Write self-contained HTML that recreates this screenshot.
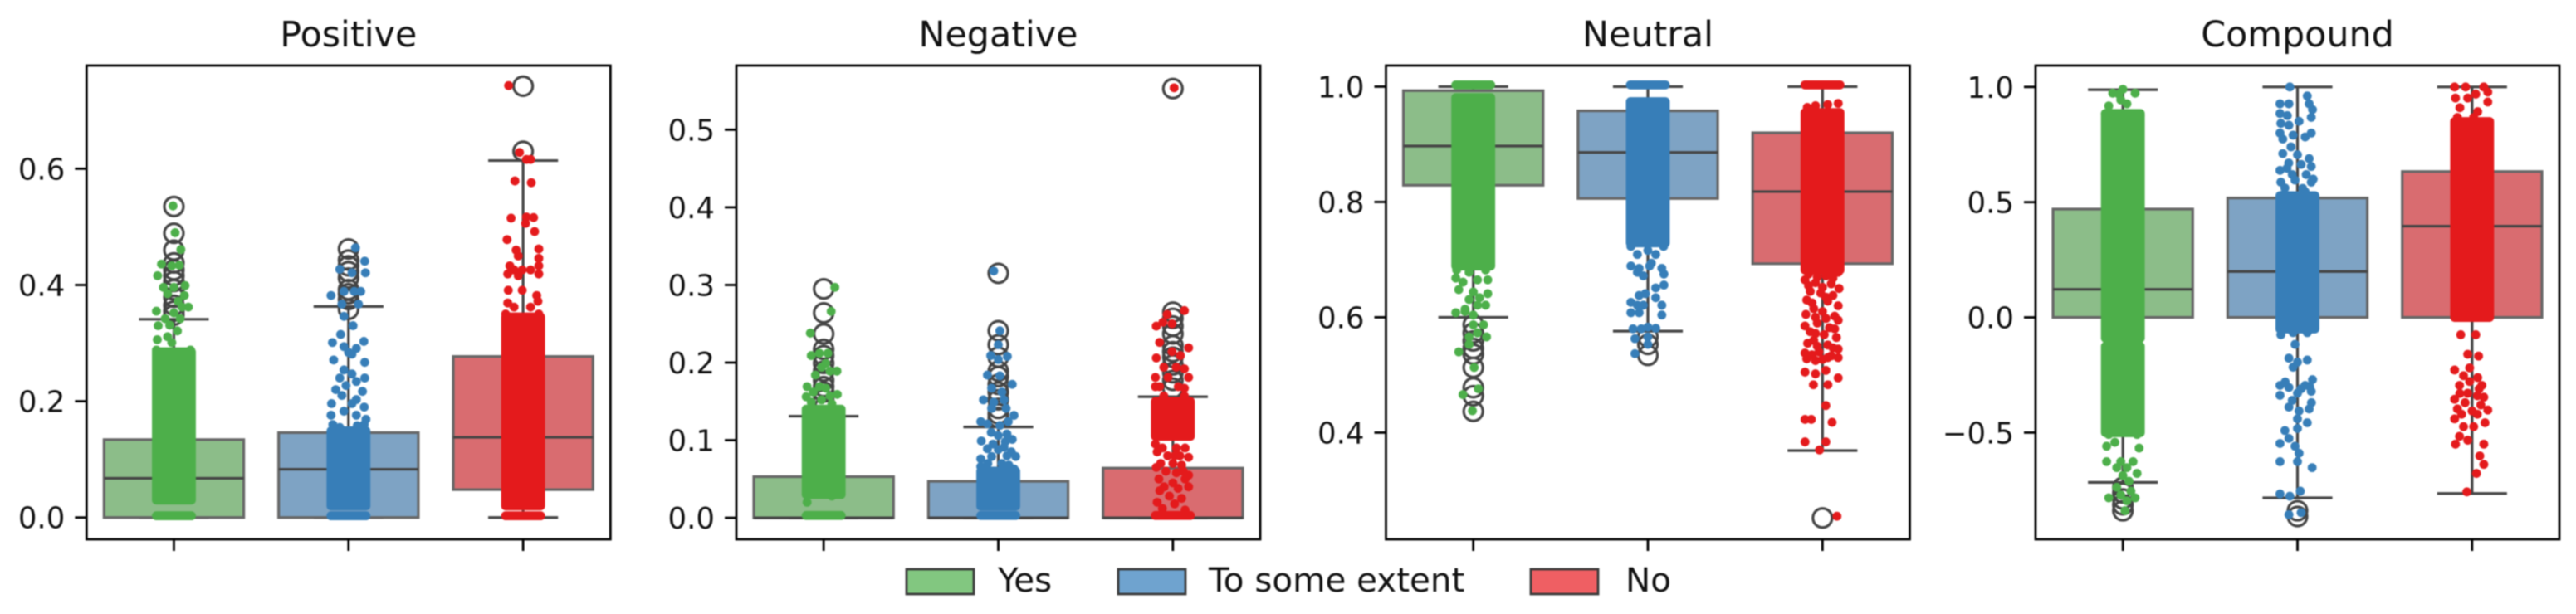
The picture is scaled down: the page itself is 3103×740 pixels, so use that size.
<!DOCTYPE html>
<html lang="en">
<head>
<meta charset="utf-8">
<title>Sentiment score box plots</title>
<style>
html,body{margin:0;padding:0;background:#fff;width:3103px;height:740px;overflow:hidden}
svg{display:block;filter:blur(0.9px)}
text{font-family:"DejaVu Sans","Liberation Sans",sans-serif;fill:#111}
</style>
</head>
<body>
<svg id="chart" xmlns="http://www.w3.org/2000/svg" width="3103" height="740" viewBox="0 0 3103 740">
  <rect x="0" y="0" width="3103" height="740" fill="#fff"/>
  <g id="panels"></g>
  <g id="legend"></g>
</svg>
<script>
const panelTitles = ["Positive", "Negative", "Neutral", "Compound"];
const panelKeys = ["positive", "negative", "neutral", "compound"];
const categories = ["Yes", "To some extent", "No"];

const positiveDomain = [-0.0375, 0.7775];
const negativeDomain = [-0.0277, 0.5827];
const neutralDomain = [0.215, 1.0366];
const compoundDomain = [-0.963, 1.093];

const positiveTicks = [0, 0.2, 0.4, 0.6];
const negativeTicks = [0, 0.1, 0.2, 0.3, 0.4, 0.5];
const neutralTicks = [0.4, 0.6, 0.8, 1.0];
const compoundTicks = [-0.5, 0, 0.5, 1.0];

const positiveQ1 = [0, 0, 0.048];
const positiveMedian = [0.0675, 0.083, 0.138];
const positiveQ3 = [0.134, 0.146, 0.277];
const positiveWhiskerLow = [0, 0, 0];
const positiveWhiskerHigh = [0.341, 0.363, 0.614];
const positiveFliers = [
  [0.535,0.489,0.46,0.438,0.426,0.416,0.406,0.392,0.379,0.365,0.355,0.348],
  [0.462,0.443,0.433,0.423,0.412,0.392,0.385,0.375,0.358],
  [0.742,0.63]
];

const negativeQ1 = [0, 0, 0];
const negativeMedian = [0, 0, 0];
const negativeQ3 = [0.053, 0.047, 0.064];
const negativeWhiskerLow = [0, 0, 0];
const negativeWhiskerHigh = [0.131, 0.117, 0.156];
const negativeFliers = [
  [0.295,0.264,0.237,0.217,0.209,0.199,0.189,0.177,0.169,0.162,0.152,0.141],
  [0.315,0.241,0.223,0.207,0.189,0.182,0.172,0.162,0.152,0.141,0.134,0.129],
  [0.553,0.265,0.257,0.247,0.237,0.222,0.214,0.207,0.197,0.187,0.177,0.167]
];

const neutralQ1 = [0.829, 0.806, 0.693];
const neutralMedian = [0.897, 0.886, 0.818];
const neutralQ3 = [0.993, 0.958, 0.92];
const neutralWhiskerLow = [0.6, 0.576, 0.369];
const neutralWhiskerHigh = [1, 1, 1];
const neutralFliers = [
  [0.587,0.573,0.559,0.546,0.536,0.513,0.478,0.464,0.437],
  [0.566,0.553,0.534],
  [0.252]
];

const compoundQ1 = [0, 0, 0];
const compoundMedian = [0.122, 0.199, 0.396];
const compoundQ3 = [0.47, 0.518, 0.633];
const compoundWhiskerLow = [-0.716, -0.783, -0.764];
const compoundWhiskerHigh = [0.988, 1, 1];
const compoundFliers = [
  [-0.839,-0.813,-0.788,-0.762,-0.737],
  [-0.839,-0.864],
  []
];

/* Overplotted stretches of each strip, where the dots merge into a solid column: [low, high] */
const positiveDense = [
  [[0.003,0.003],[0.03,0.285]],
  [[0.003,0.003],[0.02,0.149]],
  [[0.003,0.003],[0.02,0.345]]
];
const negativeDense = [
  [[0.003,0.003],[0.03,0.14]],
  [[0.003,0.003],[0.015,0.06]],
  [[0.003,0.003],[0.105,0.15]]
];
const neutralDense = [
  [[1.003,1.003],[0.689,0.981]],
  [[1.003,1.003],[0.729,0.974]],
  [[1.003,1.003],[0.682,0.955]]
];
const compoundDense = [
  [[-0.09,0.885],[-0.5,-0.125]],
  [[-0.05,0.528]],
  [[0,0.85]]
];

/* Individually visible strip dots: [value, horizontal jitter in category units] */
const positiveYesDots = [[0.536,-0.005],[0.49,0.007],[0.461,0.04],[0.436,-0.071],[0.434,0.031],[0.433,-0.012],[0.416,-0.093],[0.396,-0.06],[0.399,0.064],[0.396,0],[0.385,-0.036],[0.382,0.06],[0.372,0.024],[0.362,0.047],[0.362,0.083],[0.355,-0.1],[0.352,0],[0.342,-0.05],[0.342,0.036],[0.33,-0.09],[0.331,-0.024],[0.321,0.02],[0.306,-0.095],[0.311,-0.036],[0.301,-0.012],[0.288,-0.1],[0.288,0.095]];
const positiveTseDots = [[0.464,0.04],[0.441,0.093],[0.427,-0.05],[0.421,0.02],[0.421,0.097],[0.382,-0.1],[0.389,-0.026],[0.389,0.07],[0.389,0.033],[0.367,0.057],[0.367,-0.038],[0.346,-0.026],[0.33,0.026],[0.315,-0.045],[0.301,-0.092],[0.303,0.088],[0.294,-0.026],[0.291,0.045],[0.284,0],[0.271,-0.085],[0.267,0.093],[0.281,0.02],[0.254,-0.026],[0.24,-0.05],[0.24,0.093],[0.247,0.02],[0.234,0.045],[0.22,-0.073],[0.217,0.08],[0.227,-0.014],[0.196,-0.097],[0.19,0.09],[0.196,0.02],[0.21,-0.038],[0.203,0.045],[0.176,-0.1],[0.169,0.1],[0.183,-0.026],[0.176,0.045],[0.16,-0.09],[0.158,0.05],[0.155,-0.05],[0.16,0.09]];
const positiveNoDots = [[0.743,-0.083],[0.628,-0.021],[0.616,0.019],[0.616,0.043],[0.579,-0.047],[0.576,0.047],[0.515,-0.069],[0.517,0.019],[0.516,0.06],[0.506,0.014],[0.492,0.066],[0.478,-0.092],[0.462,0.09],[0.46,-0.04],[0.45,-0.028],[0.446,0.09],[0.433,0.09],[0.433,-0.076],[0.426,-0.052],[0.426,-0.005],[0.426,0.043],[0.419,-0.088],[0.416,-0.028],[0.419,0.09],[0.391,-0.085],[0.391,-0.005],[0.382,0.078],[0.372,0.085],[0.369,-0.088],[0.362,-0.052],[0.362,0.043],[0.35,-0.1],[0.35,0.09],[0.345,-0.04],[0.34,0.1]];

const negativeYesDots = [[0.297,0.064],[0.266,0.043],[0.238,-0.076],[0.209,-0.071],[0.212,-0.024],[0.212,0.024],[0.199,0.012],[0.194,-0.012],[0.189,0.076],[0.184,-0.047],[0.189,0.036],[0.169,-0.095],[0.167,0.012],[0.169,-0.024],[0.159,0.078],[0.156,-0.1],[0.162,-0.059],[0.157,0.036],[0.149,-0.071],[0.152,-0.012],[0.147,0.047],[0.02,-0.095],[0.028,0.047]];
const negativeTseDots = [[0.318,-0.026],[0.241,0.009],[0.223,0],[0.209,-0.043],[0.208,0.052],[0.204,0],[0.184,-0.062],[0.183,0.009],[0.172,0.08],[0.167,-0.038],[0.162,0.021],[0.152,-0.085],[0.152,0.033],[0.149,-0.026],[0.141,-0.038],[0.141,0.045],[0.124,-0.1],[0.132,0.09],[0.121,-0.062],[0.119,0.009],[0.124,0.057],[0.099,-0.097],[0.101,0.08],[0.106,0],[0.076,-0.1],[0.079,0.1],[0.089,-0.062],[0.091,0.033],[0.066,-0.1],[0.063,0.09],[0.079,-0.038],[0.11,-0.04],[0.108,0.05],[0.098,0.04],[0.095,-0.03],[0.088,0],[0.085,0.075],[0.08,0.05],[0.07,-0.06],[0.07,0.02],[0.068,0.06],[0.06,-0.09]];
const negativeNoDots = [[0.554,0.007],[0.267,0.066],[0.262,-0.033],[0.247,-0.095],[0.252,-0.057],[0.25,-0.005],[0.226,-0.076],[0.219,0.09],[0.214,-0.005],[0.206,-0.095],[0.209,0.043],[0.194,-0.052],[0.194,0.019],[0.192,0.066],[0.181,-0.1],[0.181,-0.028],[0.181,0.09],[0.169,-0.076],[0.169,0.031],[0.167,0.066],[0.169,-0.1],[0.157,-0.052],[0.157,0.066],[0.095,-0.1],[0.09,-0.06],[0.09,0.02],[0.09,0.07],[0.085,-0.09],[0.08,-0.03],[0.08,0.04],[0.078,0.09],[0.07,-0.07],[0.07,0],[0.068,0.05],[0.065,-0.095],[0.06,-0.04],[0.058,0.02],[0.055,0.09],[0.05,0.07],[0.05,-0.08],[0.045,0],[0.04,0.09],[0.04,-0.05],[0.038,0.03],[0.035,-0.075],[0.028,-0.02],[0.025,0.05],[0.02,-0.09],[0.018,0.01],[0.012,-0.06],[0.01,0.07],[0.08,0.01],[0.06,0.06]];

const neutralYesDots = [[0.682,-0.095],[0.678,-0.024],[0.682,0.071],[0.668,-0.1],[0.661,-0.059],[0.665,0.024],[0.665,0.083],[0.648,-0.083],[0.644,0],[0.641,0.083],[0.631,-0.024],[0.634,0.036],[0.614,-0.047],[0.621,0.024],[0.621,0.071],[0.608,-0.1],[0.61,-0.047],[0.587,0.059],[0.587,0],[0.566,-0.024],[0.566,0.076],[0.54,-0.083],[0.513,0.005],[0.466,-0.059],[0.476,0.029],[0.438,-0.005],[0.573,0.024],[0.553,-0.024],[0.604,0]];
const neutralTseDots = [[0.723,-0.097],[0.716,0],[0.723,0.09],[0.709,-0.06],[0.709,0.045],[0.689,-0.097],[0.685,-0.05],[0.689,0.01],[0.685,0.08],[0.675,0.092],[0.678,-0.06],[0.672,-0.026],[0.694,0.02],[0.656,0.092],[0.651,0.045],[0.638,-0.05],[0.641,-0.014],[0.634,0.045],[0.626,-0.097],[0.621,0.08],[0.621,-0.06],[0.608,-0.097],[0.608,-0.05],[0.604,0.08],[0.621,-0.026],[0.58,-0.085],[0.58,-0.038],[0.581,0.045],[0.563,-0.074],[0.583,0],[0.537,-0.074],[0.566,0],[0.553,0]];
const neutralNoDots = [[0.964,-0.087],[0.971,0.09],[0.967,-0.04],[0.969,0.03],[0.675,-0.08],[0.672,0.02],[0.678,0.09],[0.665,-0.1],[0.66,-0.04],[0.658,0.05],[0.65,0.095],[0.645,-0.07],[0.642,-0.01],[0.638,0.06],[0.63,-0.09],[0.628,0.03],[0.62,0.09],[0.615,-0.05],[0.61,0],[0.605,-0.095],[0.602,0.07],[0.595,0.09],[0.59,-0.03],[0.585,-0.1],[0.582,0.04],[0.575,-0.07],[0.57,0.01],[0.565,0.08],[0.56,-0.05],[0.555,-0.085],[0.552,0.03],[0.545,0.09],[0.54,-0.02],[0.538,-0.1],[0.535,-0.06],[0.533,0.05],[0.53,0.09],[0.528,-0.09],[0.527,0],[0.525,-0.04],[0.53,0.03],[0.67,-0.03],[0.668,0.06],[0.655,-0.08],[0.652,0],[0.635,0.02],[0.625,-0.06],[0.6,-0.04],[0.598,0.02],[0.58,0.07],[0.572,-0.04],[0.55,-0.03],[0.547,0.06],[0.505,-0.1],[0.502,-0.04],[0.495,0.09],[0.483,-0.052],[0.483,0.031],[0.508,0.019],[0.447,0.019],[0.423,-0.1],[0.423,-0.064],[0.418,0.055],[0.384,-0.1],[0.384,0.019],[0.37,-0.017],[0.255,0.083]];

const compoundYesDots = [[0.99,0],[0.973,-0.058],[0.973,0.07],[0.969,-0.023],[0.918,-0.081],[0.927,0.023],[0.944,-0.012],[0.885,-0.1],[0.876,0.1],[-0.508,-0.081],[-0.508,0.081],[-0.542,-0.046],[-0.559,-0.093],[-0.567,0.093],[-0.626,-0.093],[-0.626,-0.012],[-0.626,0.058],[-0.652,-0.035],[-0.652,0.023],[-0.677,0.081],[-0.686,0],[-0.711,0.035],[-0.737,-0.035],[-0.754,0.046],[-0.783,-0.081],[-0.771,-0.012],[-0.783,0.07],[-0.839,0.012],[-0.796,0.023]];
const compoundTseDots = [[1,-0.044],[0.961,0.056],[0.927,0.067],[0.927,-0.1],[0.927,-0.049],[0.902,0.086],[0.885,-0.1],[0.876,-0.058],[0.868,0.079],[0.851,0.009],[0.842,-0.095],[0.834,-0.049],[0.8,-0.1],[0.791,-0.025],[0.8,0.079],[0.783,0.044],[0.774,-0.084],[0.74,-0.037],[0.711,-0.084],[0.706,0],[0.689,0.067],[0.638,-0.1],[0.647,-0.06],[0.664,0.021],[0.655,0.079],[0.587,-0.095],[0.596,-0.014],[0.587,0.079],[0.562,-0.072],[0.545,0.044],[0.67,-0.05],[0.62,0.05],[0.62,-0.03],[0.56,0.03],[0.6,0.09],[0.53,-0.09],[-0.075,-0.095],[-0.066,-0.025],[-0.066,0.056],[-0.117,-0.014],[-0.177,-0.049],[-0.185,0.056],[-0.194,0],[-0.216,-0.025],[-0.27,0.086],[-0.295,-0.1],[-0.304,-0.049],[-0.295,0.044],[-0.338,-0.1],[-0.329,0],[-0.321,0.079],[-0.389,-0.049],[-0.397,0.067],[-0.406,0.009],[-0.44,0],[-0.457,0.056],[-0.482,0],[-0.491,-0.072],[-0.525,-0.049],[-0.559,-0.014],[-0.547,-0.1],[-0.589,0.009],[-0.626,-0.1],[-0.626,0],[-0.652,0.084],[-0.766,-0.1],[-0.776,-0.044],[-0.754,0.016],[-0.856,-0.049],[-0.847,0.021],[-0.28,-0.07],[-0.3,0.07],[-0.31,0.02],[-0.36,-0.03],[-0.37,0.08]];
const compoundNoDots = [[1,-0.1],[1,-0.037],[1,0.067],[0.969,0.021],[0.978,0.09],[0.952,-0.095],[0.952,-0.025],[0.935,0.09],[0.91,-0.07],[0.893,0.032],[0.868,-0.084],[0.868,0.009],[-0.075,-0.065],[-0.075,0.021],[-0.16,-0.025],[-0.168,0.037],[-0.228,-0.1],[-0.219,-0.014],[-0.253,-0.049],[-0.261,0.032],[-0.295,-0.072],[-0.278,-0.014],[-0.295,0.056],[-0.355,-0.1],[-0.329,-0.025],[-0.346,0.067],[-0.397,-0.084],[-0.406,0],[-0.402,0.09],[-0.44,-0.1],[-0.474,-0.049],[-0.457,0.074],[-0.516,-0.072],[-0.474,0.009],[-0.55,-0.095],[-0.533,-0.025],[-0.55,0.067],[-0.601,0.044],[-0.638,0.067],[-0.677,0.025],[-0.757,-0.03],[-0.33,-0.07],[-0.34,0.03],[-0.31,0.04],[-0.37,-0.04],[-0.38,0.05],[-0.42,-0.06],[-0.42,0.03]];

const positiveDots = [positiveYesDots, positiveTseDots, positiveNoDots];
const negativeDots = [negativeYesDots, negativeTseDots, negativeNoDots];
const neutralDots = [neutralYesDots, neutralTseDots, neutralNoDots];
const compoundDots = [compoundYesDots, compoundTseDots, compoundNoDots];

const panelData = [
  {domain: positiveDomain, ticks: positiveTicks, q1: positiveQ1, med: positiveMedian, q3: positiveQ3, lo: positiveWhiskerLow, hi: positiveWhiskerHigh, fliers: positiveFliers, dense: positiveDense, dots: positiveDots},
  {domain: negativeDomain, ticks: negativeTicks, q1: negativeQ1, med: negativeMedian, q3: negativeQ3, lo: negativeWhiskerLow, hi: negativeWhiskerHigh, fliers: negativeFliers, dense: negativeDense, dots: negativeDots},
  {domain: neutralDomain, ticks: neutralTicks, q1: neutralQ1, med: neutralMedian, q3: neutralQ3, lo: neutralWhiskerLow, hi: neutralWhiskerHigh, fliers: neutralFliers, dense: neutralDense, dots: neutralDots},
  {domain: compoundDomain, ticks: compoundTicks, q1: compoundQ1, med: compoundMedian, q3: compoundQ3, lo: compoundWhiskerLow, hi: compoundWhiskerHigh, fliers: compoundFliers, dense: compoundDense, dots: compoundDots}
];

const dotColors = ["#4daf4a", "#377eb8", "#e41a1c"];
const boxColors = ["#8cbd89", "#7ea3c4", "#d96c70"];
const legendColors = ["#82c780", "#6fa3cf", "#ef5f63"];

const NS = "http://www.w3.org/2000/svg";
const panelLefts = [104.3, 887, 1669.5, 2452];
const plotWidth = 631;
const plotTop = 79;
const plotBottom = 650;
const dotRadius = 5.4;
const lineDark = "#444";

function make(tag, attrs, parent) {
  const node = document.createElementNS(NS, tag);
  for (const key in attrs) node.setAttribute(key, attrs[key]);
  parent.appendChild(node);
  return node;
}
function xScale(left, category, offset) {
  return left + (category + 0.5 + (offset || 0)) * plotWidth / 3;
}
function yScale(domain, value) {
  return plotBottom - (value - domain[0]) / (domain[1] - domain[0]) * (plotBottom - plotTop);
}
function formatTick(value) {
  const text = Math.abs(value).toFixed(1);
  return value < 0 ? "\u2212" + text : text;
}

const panelsRoot = document.getElementById("panels");
panelData.forEach(function (panel, p) {
  const left = panelLefts[p];
  const key = panelKeys[p];
  const group = make("g", {}, panelsRoot);
  
  
  const y = function (v) { return yScale(panel.domain, v); };

  const title = make("text", {x: left + plotWidth / 2, y: 56, "text-anchor": "middle", "font-size": 42.8}, group);
  
  
  title.textContent = panelTitles[p];

  categories.forEach(function (cat, c) {
    const slug = cat.toLowerCase().replace(/ /g, "-");
    const cx = xScale(left, c, 0);
    const cat_g = make("g", {}, group);
    
    

    const whisker = make("path", {
      d: "M" + cx + " " + y(panel.q3[c]) + "V" + y(panel.hi[c]) + "M" + cx + " " + y(panel.q1[c]) + "V" + y(panel.lo[c]),
      stroke: lineDark, "stroke-width": 3.2, fill: "none"
    }, cat_g);
    
    

    const capLeft = xScale(left, c, -0.2);
    const capRight = xScale(left, c, 0.2);
    const caps = make("path", {
      d: "M" + capLeft + " " + y(panel.hi[c]) + "H" + capRight + "M" + capLeft + " " + y(panel.lo[c]) + "H" + capRight,
      stroke: lineDark, "stroke-width": 3.2, fill: "none"
    }, cat_g);
    
    

    const boxLeft = xScale(left, c, -0.4);
    const boxRight = xScale(left, c, 0.4);
    const box = make("rect", {
      x: boxLeft, y: y(panel.q3[c]), width: boxRight - boxLeft, height: y(panel.q1[c]) - y(panel.q3[c]),
      fill: boxColors[c], stroke: "#666", "stroke-width": 3.2
    }, cat_g);
    
    

    const median = make("line", {x1: boxLeft, x2: boxRight, y1: y(panel.med[c]), y2: y(panel.med[c]), stroke: lineDark, "stroke-width": 3.2}, cat_g);
    
    

    panel.fliers[c].forEach(function (v) {
      const ring = make("circle", {cx: cx, cy: y(v), r: 11.5, fill: "none", stroke: lineDark, "stroke-width": 3.2}, cat_g);
      
      
    });

    panel.dense[c].forEach(function (range) {
      const spread = 0.1 * plotWidth / 3 + dotRadius;
      const band = make("rect", {
        x: cx - spread, y: y(range[1]) - dotRadius, width: spread * 2,
        height: y(range[0]) - y(range[1]) + dotRadius * 2,
        rx: dotRadius, ry: dotRadius, fill: dotColors[c]
      }, cat_g);
      
      
    });

    panel.dots[c].forEach(function (pair) {
      const dot = make("circle", {cx: xScale(left, c, pair[1]), cy: y(pair[0]), r: dotRadius, fill: dotColors[c]}, cat_g);
      
      
    });

    const xTick = make("line", {x1: cx, x2: cx, y1: plotBottom, y2: plotBottom + 14, stroke: "#000", "stroke-width": 2.8}, group);
    
    
  });

  const frame = make("rect", {x: left, y: plotTop, width: plotWidth, height: plotBottom - plotTop, fill: "none", stroke: "#000", "stroke-width": 2.8}, group);
  
  

  panel.ticks.forEach(function (t) {
    const tickY = y(t);
    const mark = make("line", {x1: left - 14, x2: left, y1: tickY, y2: tickY, stroke: "#000", "stroke-width": 2.8}, group);
    
    
    const label = make("text", {x: left - 26, y: tickY + 13, "text-anchor": "end", "font-size": 35.5}, group);
    
    
    label.textContent = formatTick(t);
  });
});

const legendRoot = document.getElementById("legend");
const legendPatchX = [1092, 1347, 1844];
const legendTextX = [1202, 1456, 1958];
categories.forEach(function (cat, c) {
  const slug = cat.toLowerCase().replace(/ /g, "-");
  const entry = make("g", {}, legendRoot);
  
  
  const patch = make("rect", {x: legendPatchX[c], y: 686, width: 81, height: 30, fill: legendColors[c], stroke: "#3a3a3a", "stroke-width": 2.8}, entry);
  
  
  const label = make("text", {x: legendTextX[c], y: 713, "font-size": 40.4}, entry);
  
  
  label.textContent = cat;
});
</script>
</body>
</html>
